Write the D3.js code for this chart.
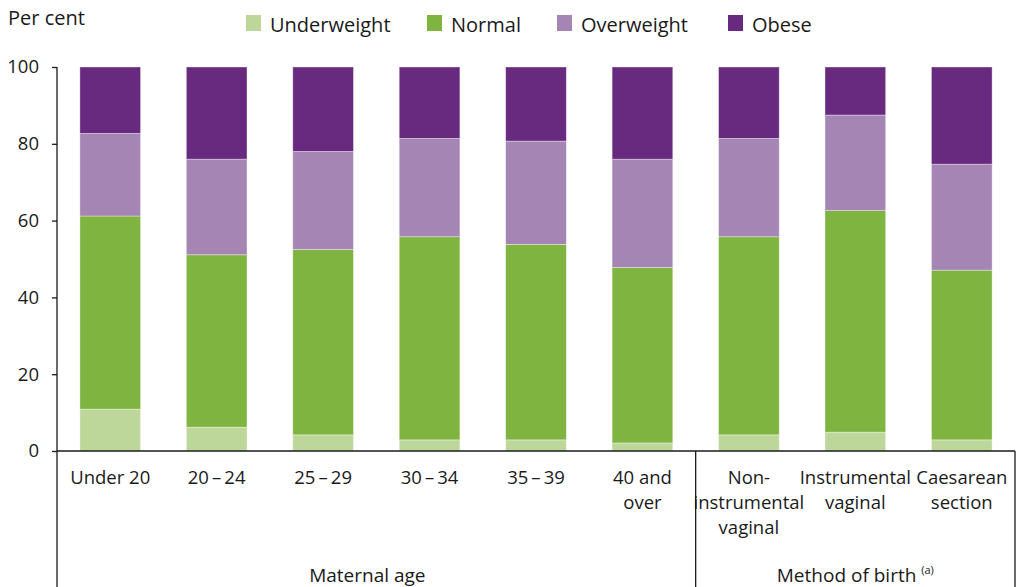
<!DOCTYPE html>
<html>
<head>
<meta charset="utf-8">
<script src="https://cdn.jsdelivr.net/npm/d3@7"></script>
<style>
  body { margin: 0; background: #fff; }
  svg text { font-family: "Open Sans", "Noto Sans", sans-serif; fill: #1a1a1a; }
</style>
</head>
<body>
<svg id="chart"></svg>
<script>
// categories (line-broken labels) and group spans
const categories = ["Under 20", "20–24", "25–29", "30–34", "35–39", "40 and over",
  "Non-instrumental vaginal", "Instrumental vaginal", "Caesarean section"];
const categoryLines = [["Under 20"], ["20\u2009\u2013\u200924"], ["25\u2009\u2013\u200929"], ["30\u2009\u2013\u200934"], ["35\u2009\u2013\u200939"],
  ["40 and", "over"], ["Non-", "instrumental", "vaginal"], ["Instrumental", "vaginal"], ["Caesarean", "section"]];
const groups = [
  { label: "Maternal age", from: 0, to: 5 },
  { label: "Method of birth", sup: "(a)", from: 6, to: 8 }
];

const seriesNames = ["Underweight", "Normal", "Overweight", "Obese"];
const seriesColors = ["#bdd79b", "#80b441", "#a485b4", "#682a7f"];

const underweight = [10.9, 6.2, 4.2, 2.9, 2.9, 2.1, 4.2, 4.9, 2.9];
const normal      = [50.3, 44.9, 48.3, 52.9, 50.9, 45.7, 51.6, 57.7, 44.2];
const overweight  = [21.5, 24.9, 25.5, 25.6, 26.9, 28.2, 25.6, 24.9, 27.6];
const obese       = [17.3, 24.0, 22.0, 18.6, 19.3, 24.0, 18.6, 12.5, 25.3];

const yTicks = [0, 20, 40, 60, 80, 100];

const width = 1020, height = 587;
const plotLeft = 57, plotRight = 1015, plotTop = 67, plotBottom = 451;

const svg = d3.select("#chart").attr("width", width).attr("height", height);

const rows = categories.map((c, i) => ({
  cat: c,
  Underweight: underweight[i],
  Normal: normal[i],
  Overweight: overweight[i],
  Obese: obese[i]
}));

const x = d3.scaleBand().domain(categories).range([plotLeft, plotRight]).paddingInner(0.43).paddingOuter(0.215);
const y = d3.scaleLinear().domain([0, 100]).range([plotBottom, plotTop]);

const stacked = d3.stack().keys(seriesNames)(rows);

svg.append("g")
  .selectAll("g")
  .data(stacked)
  .enter()
  .append("g")
  .attr("fill", (d, i) => seriesColors[i])
  .selectAll("rect")
  .data(d => d)
  .enter()
  .append("rect")
  .attr("x", d => x(d.data.cat))
  .attr("y", d => y(d[1]))
  .attr("width", x.bandwidth())
  .attr("height", d => y(d[0]) - y(d[1]))
  .attr("stroke", "rgba(255,255,255,0.45)")
  .attr("stroke-width", 0.8);

// y axis
const yAxis = svg.append("g")
  .attr("transform", `translate(${plotLeft},0)`)
  .call(d3.axisLeft(y).tickValues(yTicks).tickSize(5).tickPadding(13));
yAxis.select(".domain").remove();
yAxis.selectAll("line").attr("stroke", "#1a1a1a").attr("stroke-width", 1.3);
yAxis.selectAll("text").attr("font-size", 18.5).attr("fill", "#1a1a1a")
  .style("font-family", '"Open Sans", sans-serif');

svg.append("line")
  .attr("x1", plotLeft).attr("x2", plotLeft).attr("y1", plotTop).attr("y2", height)
  .attr("stroke", "#1a1a1a").attr("stroke-width", 1.3);

// x axis baseline and group separators
svg.append("line")
  .attr("x1", plotLeft).attr("x2", plotRight).attr("y1", plotBottom).attr("y2", plotBottom)
  .attr("stroke", "#1a1a1a").attr("stroke-width", 1.5);

const sepX = (x(categories[5]) + x.bandwidth() + x(categories[6])) / 2;
[sepX, plotRight].forEach(sx => {
  svg.append("line")
    .attr("x1", sx).attr("x2", sx).attr("y1", plotBottom).attr("y2", height)
    .attr("stroke", "#1a1a1a").attr("stroke-width", 1.3);
});

// category labels
categories.forEach((c, i) => {
  const t = svg.append("text")
    .attr("x", x(c) + x.bandwidth() / 2)
    .attr("y", 484)
    .attr("text-anchor", "middle")
    .attr("font-size", 18.5);
  categoryLines[i].forEach((line, j) => {
    t.append("tspan")
      .attr("x", x(c) + x.bandwidth() / 2)
      .attr("dy", j === 0 ? 0 : 25)
      .text(line);
  });
});

// group labels
const groupEdges = [plotLeft, sepX, plotRight];
const groupShift = [-9, 0];
groups.forEach((g, i) => {
  const t = svg.append("text")
    .attr("x", (groupEdges[i] + groupEdges[i + 1]) / 2 + groupShift[i])
    .attr("y", 582)
    .attr("text-anchor", "middle")
    .attr("font-size", 19)
    .text(g.label);
  if (g.sup) {
    t.append("tspan").text(" ");
    t.append("tspan").attr("font-size", 11).attr("dy", -8).text(g.sup);
  }
});

// y axis title
svg.append("text")
  .attr("x", 8).attr("y", 25)
  .attr("font-size", 20)
  .text("Per cent");

// legend
const legendX = [246, 427, 557, 728];
const legend = svg.append("g");
seriesNames.forEach((s, i) => {
  legend.append("rect")
    .attr("x", legendX[i]).attr("y", 15)
    .attr("width", 15).attr("height", 16)
    .attr("fill", seriesColors[i]);
  legend.append("text")
    .attr("x", legendX[i] + 24).attr("y", 32)
    .attr("font-size", 20)
    .text(s);
});
</script>
</body>
</html>
